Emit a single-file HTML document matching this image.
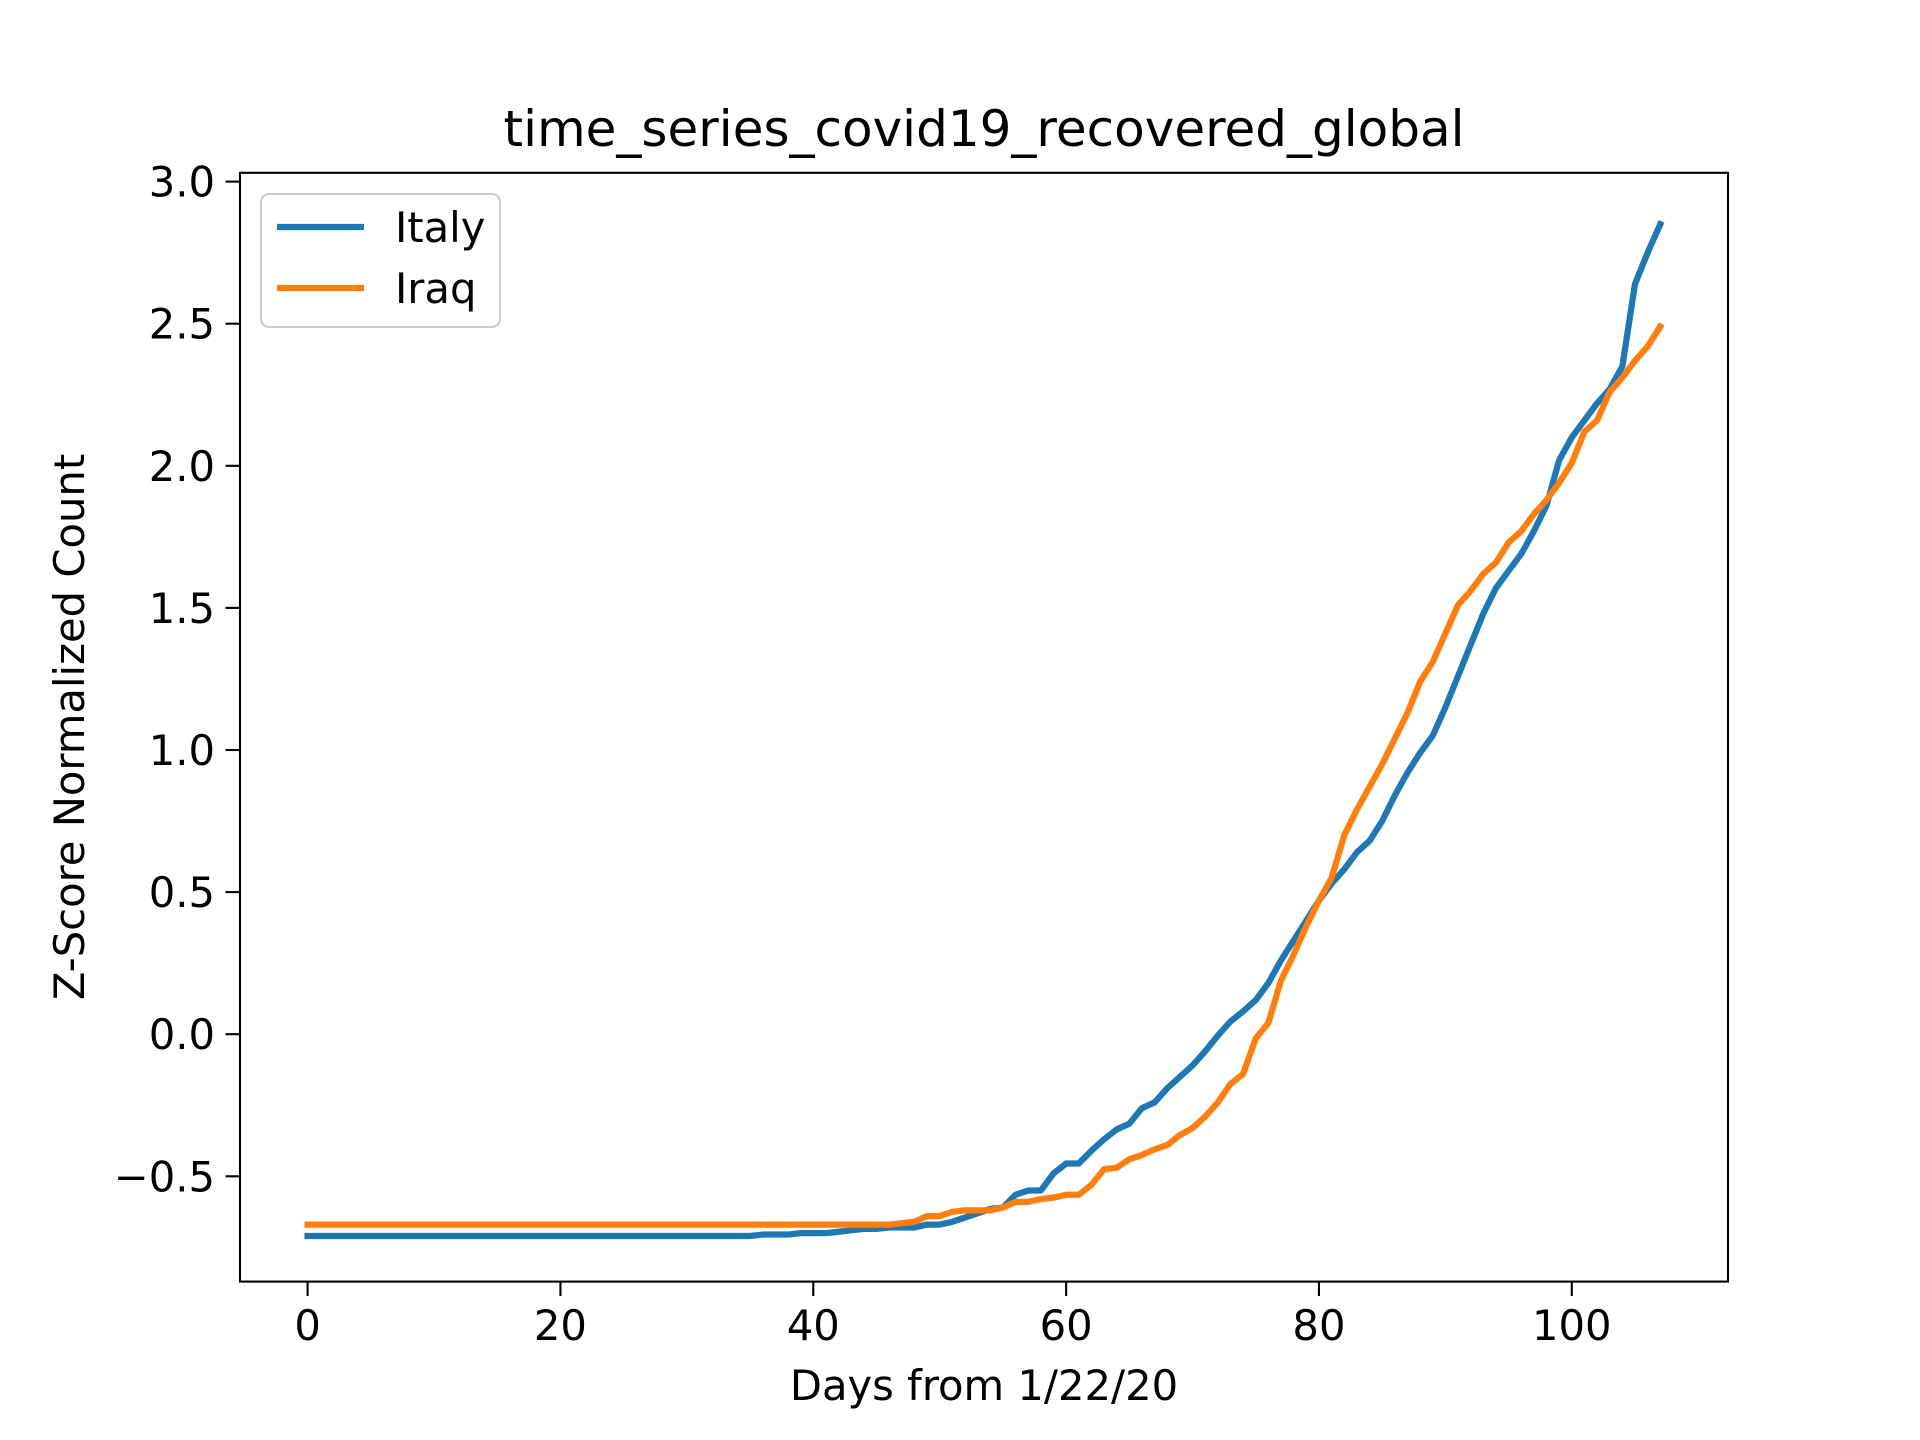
<!DOCTYPE html>
<html><head><meta charset="utf-8"><style>
html,body{margin:0;padding:0;background:#fff;}
svg{display:block;font-family:"DejaVu Sans","Liberation Sans",sans-serif;}
</style></head><body>
<svg id="chart" width="1920" height="1440" viewBox="0 0 1920 1440">
<rect width="1920" height="1440" fill="#fff"/>
<g id="lines"></g>
<rect x="240" y="172.8" width="1488" height="1108.8" fill="none" stroke="#000" stroke-width="2.1"/>
<g id="ticks"></g>
<text x="984" y="146" font-size="50" text-anchor="middle">time_series_covid19_recovered_global</text>
<text x="984" y="1400" font-size="41.7" text-anchor="middle">Days from 1/22/20</text>
<text transform="translate(84,727) rotate(-90)" font-size="41.7" text-anchor="middle">Z-Score Normalized Count</text>
<g>
<rect x="261" y="194" width="239" height="133" rx="8" fill="#fff" fill-opacity="0.8" stroke="#ccc" stroke-width="2.1"/>
<line x1="277" y1="227" x2="364" y2="227" stroke="#1f77b4" stroke-width="6.25"/>
<text x="395" y="242" font-size="41.7">Italy</text>
<line x1="277" y1="288" x2="364" y2="288" stroke="#ff7f0e" stroke-width="6.25"/>
<text x="395" y="303" font-size="41.7">Iraq</text>
</g>
</svg>
<script>
const xTicks = [0, 20, 40, 60, 80, 100];
const yTicks = [-0.5, 0.0, 0.5, 1.0, 1.5, 2.0, 2.5, 3.0];
const yTickLabels = ["\u22120.5", "0.0", "0.5", "1.0", "1.5", "2.0", "2.5", "3.0"];
const italy = [
-0.71,-0.71,-0.71,-0.71,-0.71,-0.71,-0.71,-0.71,-0.71,-0.71,
-0.71,-0.71,-0.71,-0.71,-0.71,-0.71,-0.71,-0.71,-0.71,-0.71,
-0.71,-0.71,-0.71,-0.71,-0.71,-0.71,-0.71,-0.71,-0.71,-0.71,
-0.71,-0.71,-0.71,-0.71,-0.71,-0.71,-0.705,-0.705,-0.705,-0.70,
-0.70,-0.70,-0.695,-0.69,-0.685,-0.685,-0.68,-0.68,-0.68,-0.67,
-0.67,-0.66,-0.645,-0.63,-0.615,-0.61,-0.565,-0.55,-0.55,-0.49,
-0.455,-0.455,-0.41,-0.37,-0.335,-0.315,-0.26,-0.24,-0.19,-0.15,
-0.11,-0.06,-0.005,0.045,0.08,0.12,0.18,0.26,0.33,0.40,
0.47,0.53,0.58,0.64,0.68,0.75,0.84,0.92,0.99,1.05,
1.15,1.26,1.37,1.48,1.57,1.63,1.69,1.77,1.86,2.02,
2.10,2.16,2.22,2.27,2.35,2.64,2.75,2.85];
const iraq = [
-0.67,-0.67,-0.67,-0.67,-0.67,-0.67,-0.67,-0.67,-0.67,-0.67,
-0.67,-0.67,-0.67,-0.67,-0.67,-0.67,-0.67,-0.67,-0.67,-0.67,
-0.67,-0.67,-0.67,-0.67,-0.67,-0.67,-0.67,-0.67,-0.67,-0.67,
-0.67,-0.67,-0.67,-0.67,-0.67,-0.67,-0.67,-0.67,-0.67,-0.67,
-0.67,-0.67,-0.67,-0.67,-0.67,-0.67,-0.67,-0.665,-0.66,-0.64,
-0.64,-0.625,-0.62,-0.62,-0.62,-0.61,-0.59,-0.59,-0.58,-0.575,
-0.565,-0.565,-0.53,-0.475,-0.47,-0.44,-0.425,-0.405,-0.39,-0.355,
-0.33,-0.29,-0.24,-0.175,-0.14,-0.015,0.04,0.19,0.28,0.38,
0.47,0.55,0.70,0.79,0.87,0.95,1.04,1.13,1.24,1.31,
1.41,1.51,1.56,1.62,1.66,1.73,1.77,1.83,1.88,1.94,
2.01,2.12,2.16,2.26,2.31,2.37,2.42,2.49];
const NS = "http://www.w3.org/2000/svg";
function xPos(d){ return 307.6 + d * 12.642; }
function yPos(v){ return 1034.2 - v * 284.2; }
const tg = document.getElementById('ticks');
xTicks.forEach(t => {
  const l = document.createElementNS(NS,'line');
  l.setAttribute('x1', xPos(t)); l.setAttribute('x2', xPos(t));
  l.setAttribute('y1', 1281.6); l.setAttribute('y2', 1296);
  l.setAttribute('stroke','#000'); l.setAttribute('stroke-width','2.1');
  
  
  tg.appendChild(l);
  const tx = document.createElementNS(NS,'text');
  tx.setAttribute('x', xPos(t)); tx.setAttribute('y', 1340);
  tx.setAttribute('font-size','41.7'); tx.setAttribute('text-anchor','middle');
  tx.textContent = t;
  
  
  tg.appendChild(tx);
});
yTicks.forEach((t,i) => {
  const l = document.createElementNS(NS,'line');
  l.setAttribute('x1', 225.5); l.setAttribute('x2', 240);
  l.setAttribute('y1', yPos(t)); l.setAttribute('y2', yPos(t));
  l.setAttribute('stroke','#000'); l.setAttribute('stroke-width','2.1');
  
  
  tg.appendChild(l);
  const tx = document.createElementNS(NS,'text');
  tx.setAttribute('x', 215); tx.setAttribute('y', yPos(t) + 15);
  tx.setAttribute('font-size','41.7'); tx.setAttribute('text-anchor','end');
  tx.textContent = yTickLabels[i];
  
  
  tg.appendChild(tx);
});
const lg = document.getElementById('lines');
function drawLine(arr, color, name){
  const p = document.createElementNS(NS,'polyline');
  p.setAttribute('points', arr.map((v,i)=> xPos(i).toFixed(2)+','+yPos(v).toFixed(2)).join(' '));
  p.setAttribute('fill','none'); p.setAttribute('stroke',color);
  p.setAttribute('stroke-width','6.25'); p.setAttribute('stroke-linecap','square');
  p.setAttribute('stroke-linejoin','round');
  
  
  lg.appendChild(p);
}
drawLine(italy, '#1f77b4', 'italy-line');
drawLine(iraq, '#ff7f0e', 'iraq-line');
</script>
</body></html>
